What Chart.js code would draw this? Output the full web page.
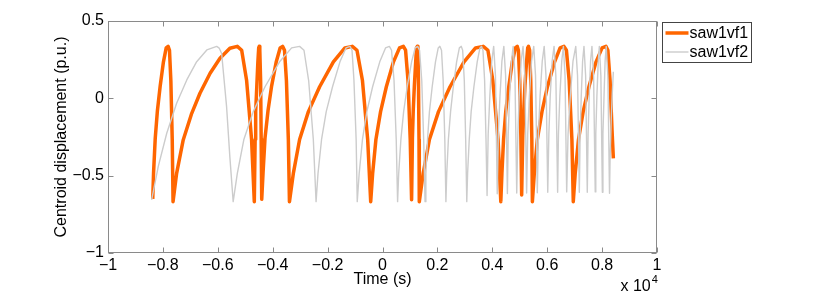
<!DOCTYPE html>
<html>
<head>
<meta charset="utf-8">
<script src="https://cdn.jsdelivr.net/npm/chart.js@4"></script>
<style>
  html, body { margin: 0; padding: 0; background: #fff; }
  #wrap { width: 830px; height: 293px; position: relative; }
</style>
</head>
<body>
<div id="wrap"><canvas id="chart"></canvas></div>
<script>
// ---- data (time in units of 10^4 s, displacement in p.u.) ----
const xTicks = [-1, -0.8, -0.6, -0.4, -0.2, 0, 0.2, 0.4, 0.6, 0.8, 1];
const yTicks = [-1, -0.5, 0, 0.5];
const seriesNames = ["saw1vf1", "saw1vf2"];

const saw1vf1 = [
  [-0.837,-0.650],[-0.834,-0.480],[-0.828,-0.260],[-0.820,-0.080],[-0.810,0.078],[-0.798,0.236],[-0.788,0.326],[-0.781,0.336],
  [-0.776,0.311],[-0.771,0.115],[-0.766,-0.266],[-0.763,-0.668],
  [-0.750,-0.485],[-0.726,-0.269],[-0.695,-0.097],[-0.665,0.033],[-0.628,0.162],[-0.592,0.259],[-0.556,0.324],[-0.529,0.336],
  [-0.513,0.311],[-0.495,0.115],[-0.477,-0.266],[-0.467,-0.668],
  [-0.464,-0.266],[-0.462,-0.086],[-0.458,0.075],[-0.454,0.236],[-0.451,0.326],[-0.449,0.336],
  [-0.447,0.311],[-0.444,0.115],[-0.442,-0.266],[-0.440,-0.653],
  [-0.435,-0.475],[-0.428,-0.257],[-0.417,-0.079],[-0.404,0.079],[-0.387,0.237],[-0.373,0.326],[-0.364,0.336],
  [-0.357,0.311],[-0.350,0.115],[-0.343,-0.266],[-0.339,-0.668],
  [-0.325,-0.487],[-0.302,-0.266],[-0.270,-0.086],[-0.229,0.075],[-0.179,0.236],[-0.137,0.326],[-0.110,0.336],
  [-0.093,0.311],[-0.073,0.115],[-0.054,-0.266],[-0.043,-0.668],
  [-0.036,-0.487],[-0.024,-0.266],[-0.007,-0.086],[0.014,0.075],[0.040,0.236],[0.062,0.326],[0.076,0.336],
  [0.084,0.311],[0.093,0.115],[0.101,-0.266],[0.106,-0.655],
  [0.109,-0.257],[0.112,-0.079],[0.116,0.079],[0.121,0.237],[0.124,0.326],[0.127,0.336],
  [0.129,0.311],[0.131,0.115],[0.133,-0.266],[0.134,-0.668],
  [0.148,-0.487],[0.171,-0.266],[0.204,-0.086],[0.246,0.075],[0.297,0.236],[0.339,0.326],[0.367,0.336],
  [0.384,0.311],[0.402,0.115],[0.421,-0.266],[0.431,-0.668],
  [0.435,-0.487],[0.441,-0.266],[0.449,-0.086],[0.460,0.075],[0.473,0.236],[0.484,0.326],[0.491,0.336],
  [0.495,0.311],[0.500,0.115],[0.504,-0.250],[0.507,-0.625],
  [0.511,-0.241],[0.515,-0.068],[0.519,0.086],[0.525,0.240],[0.529,0.326],[0.532,0.336],
  [0.536,0.311],[0.540,0.115],[0.544,-0.266],[0.546,-0.668],
  [0.553,-0.487],[0.564,-0.266],[0.581,-0.086],[0.601,0.075],[0.627,0.236],[0.647,0.326],[0.661,0.336],
  [0.670,0.311],[0.680,0.115],[0.690,-0.266],[0.695,-0.668],
  [0.702,-0.487],[0.714,-0.266],[0.731,-0.086],[0.752,0.075],[0.778,0.236],[0.800,0.326],[0.814,0.336],
  [0.821,0.311],[0.829,0.115],[0.836,-0.200],[0.841,-0.388]
];

const saw1vf2 = [
  [-0.841,-0.657],[-0.817,-0.442],[-0.786,-0.226],[-0.750,-0.032],[-0.713,0.119],[-0.677,0.237],[-0.640,0.313],[-0.604,0.336],
  [-0.595,0.325],[-0.586,0.290],[-0.568,-0.054],[-0.556,-0.380],[-0.544,-0.668],
  [-0.529,-0.487],[-0.505,-0.266],[-0.471,-0.086],[-0.428,0.075],[-0.375,0.236],[-0.331,0.326],[-0.302,0.336],
  [-0.286,0.311],[-0.269,0.115],[-0.252,-0.266],[-0.242,-0.668],
  [-0.235,-0.487],[-0.222,-0.266],[-0.205,-0.086],[-0.182,0.075],[-0.155,0.236],[-0.133,0.326],[-0.118,0.336],
  [-0.111,0.311],[-0.104,0.115],[-0.096,-0.266],[-0.092,-0.668],
  [-0.085,-0.487],[-0.073,-0.266],[-0.057,-0.086],[-0.036,0.075],[-0.010,0.236],[0.011,0.326],[0.025,0.336],
  [0.033,0.311],[0.042,0.115],[0.050,-0.266],[0.055,-0.668],
  [0.059,-0.487],[0.067,-0.266],[0.077,-0.086],[0.090,0.075],[0.106,0.236],[0.119,0.326],[0.128,0.336],
  [0.135,0.311],[0.143,0.115],[0.150,-0.266],[0.155,-0.668],
  [0.158,-0.487],[0.164,-0.266],[0.171,-0.086],[0.181,0.075],[0.193,0.236],[0.203,0.326],[0.209,0.336],
  [0.215,0.311],[0.221,0.115],[0.227,-0.266],[0.231,-0.668],
  [0.234,-0.487],[0.240,-0.266],[0.248,-0.086],[0.258,0.075],[0.270,0.236],[0.280,0.326],[0.287,0.336],
  [0.292,0.311],[0.298,0.115],[0.303,-0.266],[0.307,-0.668],
  [0.310,-0.487],[0.316,-0.266],[0.323,-0.086],[0.333,0.075],[0.345,0.236],[0.355,0.326],[0.361,0.336],
  [0.366,0.311],[0.372,0.115],[0.377,-0.260],[0.381,-0.628],
  [0.385,-0.232],[0.391,0.014],[0.398,0.241],[0.405,0.336],[0.4115,0.147],[0.418,-0.617],
  [0.422,-0.232],[0.428,0.014],[0.435,0.241],[0.442,0.336],[0.4485,0.147],[0.455,-0.615],
  [0.458,-0.232],[0.463,0.014],[0.470,0.241],[0.476,0.336],[0.4825,0.147],[0.489,-0.612],
  [0.493,-0.232],[0.498,0.014],[0.505,0.241],[0.512,0.336],[0.5185,0.147],[0.525,-0.612],
  [0.529,-0.232],[0.535,0.014],[0.543,0.241],[0.551,0.336],[0.5575,0.147],[0.564,-0.610],
  [0.568,-0.232],[0.574,0.014],[0.582,0.241],[0.589,0.336],[0.5955,0.147],[0.602,-0.607],
  [0.606,-0.232],[0.611,0.014],[0.618,0.241],[0.625,0.336],[0.6315,0.147],[0.638,-0.607],
  [0.641,-0.232],[0.646,0.014],[0.653,0.241],[0.659,0.336],[0.665,0.147],[0.671,-0.605],
  [0.676,-0.232],[0.684,0.014],[0.694,0.241],[0.704,0.336],[0.7105,0.147],[0.717,-0.607],
  [0.720,-0.232],[0.724,0.014],[0.729,0.241],[0.734,0.336],[0.740,0.147],[0.746,-0.607],
  [0.749,-0.232],[0.753,0.014],[0.758,0.241],[0.763,0.336],[0.769,0.147],[0.775,-0.605],
  [0.777,-0.232],[0.781,0.014],[0.786,0.241],[0.790,0.336],[0.7955,0.147],[0.801,-0.607],
  [0.803,-0.232],[0.807,0.014],[0.811,0.241],[0.815,0.336],[0.821,0.147],[0.827,-0.614],
  [0.829,-0.400],[0.833,-0.150],[0.837,0.030],[0.841,0.172]
];

// ---- style ----
const FONT = "'Liberation Sans', Arial, Helvetica, sans-serif";
const ORANGE = "#ff6600";
const GRAY = "#cccccc";
const AXIS = "#8a8a8a";

function fmt(v) {
    const s = String(Math.round(v * 10) / 10);
    return s.replace("-", "\u2212");
}

function toPoints(arr) {
    return arr.map(([x, y]) => ({ x, y }));
}

// box, inward ticks, legend and the "x 10^4" multiplier, MATLAB style
const boxPlugin = {
    id: "matlabBox",
    afterDraw(chart) {
        const { ctx, chartArea: a, scales } = chart;
        const L = Math.round(a.left) + 0.5, R = Math.round(a.right) - 0.5;
        const T = Math.round(a.top) + 0.5, B = Math.round(a.bottom) - 0.5;
        ctx.save();
        ctx.strokeStyle = AXIS;
        ctx.lineWidth = 1;
        ctx.strokeRect(L, T, R - L, B - T);
        ctx.beginPath();
        xTicks.forEach(v => {
            const px = Math.round(scales.x.getPixelForValue(v)) + 0.5;
            ctx.moveTo(px, B); ctx.lineTo(px, B - 5);
            ctx.moveTo(px, T); ctx.lineTo(px, T + 5);
        });
        yTicks.forEach(v => {
            const py = Math.round(scales.y.getPixelForValue(v)) + 0.5;
            ctx.moveTo(L, py); ctx.lineTo(L + 5, py);
            ctx.moveTo(R, py); ctx.lineTo(R - 5, py);
        });
        ctx.stroke();

        // legend
        const lx = R + 6, ly = T + 1;
        ctx.strokeStyle = "#444";
        ctx.strokeRect(lx, ly, 89, 40);
        const ds = chart.data.datasets;
        [0, 1].forEach(i => {
            const yy = ly + 10.5 + i * 19;
            ctx.strokeStyle = ds[i].borderColor;
            ctx.lineWidth = ds[i].borderWidth;
            ctx.beginPath();
            ctx.moveTo(lx + 3, yy); ctx.lineTo(lx + 26, yy);
            ctx.stroke();
            ctx.fillStyle = "#000";
            ctx.font = "16px " + FONT;
            ctx.textBaseline = "middle";
            ctx.textAlign = "left";
            ctx.fillText(seriesNames[i], lx + 27, yy + 1);
        });

        // exponent label under the right end of the x axis
        ctx.fillStyle = "#000";
        ctx.textBaseline = "alphabetic";
        ctx.font = "16px " + FONT;
        const base = "x 10";
        const bx = R - 36;
        ctx.fillText(base, bx, 291);
        const w = ctx.measureText(base).width;
        ctx.font = "11px " + FONT;
        ctx.fillText("4", bx + w + 1, 283);
        ctx.restore();
    }
};

new Chart(document.getElementById("chart"), {
    type: "line",
    data: {
        datasets: [
            {
                label: seriesNames[0],
                data: toPoints(saw1vf1),
                borderColor: ORANGE,
                borderWidth: 3.5,
                pointRadius: 0,
                tension: 0,
                borderJoinStyle: "round",
                order: 2
            },
            {
                label: seriesNames[1],
                data: toPoints(saw1vf2),
                borderColor: GRAY,
                borderWidth: 1.4,
                pointRadius: 0,
                tension: 0,
                borderJoinStyle: "round",
                order: 1
            }
        ]
    },
    options: {
        responsive: true,
        maintainAspectRatio: false,
        animation: false,
        layout: { padding: { left: 0, right: 173, top: 21, bottom: 0 } },
        plugins: {
            legend: { display: false },
            tooltip: { enabled: false }
        },
        scales: {
            x: {
                type: "linear",
                min: -1,
                max: 1,
                afterBuildTicks: s => { s.ticks = xTicks.map(v => ({ value: v })); },
                afterFit: s => { s.height = 40; },
                grid: { display: false, drawTicks: false },
                border: { display: false },
                ticks: {
                    callback: fmt,
                    color: "#000",
                    padding: 3,
                    maxRotation: 0,
                    autoSkip: false,
                    font: { family: FONT, size: 16 }
                },
                title: {
                    display: true,
                    text: "Time (s)",
                    color: "#000",
                    font: { family: FONT, size: 16 },
                    padding: { top: 0, bottom: 4 }
                }
            },
            y: {
                type: "linear",
                min: -1,
                max: 0.5,
                afterBuildTicks: s => { s.ticks = yTicks.map(v => ({ value: v })); },
                afterFit: s => { s.width = 108; },
                grid: { display: false, drawTicks: false },
                border: { display: false },
                ticks: {
                    callback: fmt,
                    color: "#000",
                    padding: 4,
                    autoSkip: false,
                    font: { family: FONT, size: 16 }
                },
                title: {
                    display: true,
                    text: "Centroid displacement (p.u.)",
                    color: "#000",
                    font: { family: FONT, size: 16 },
                    padding: { top: 52, bottom: 0 }
                }
            }
        }
    },
    plugins: [boxPlugin]
});
</script>
</body>
</html>
